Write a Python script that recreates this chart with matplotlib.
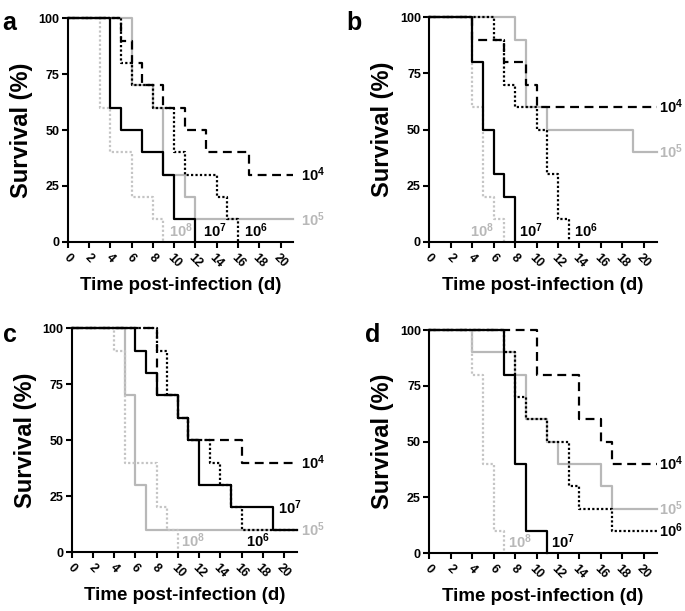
import matplotlib
matplotlib.use("Agg")
import matplotlib.pyplot as plt

plt.rcParams['font.family'] = ['Liberation Sans', 'DejaVu Sans']
plt.rcParams['font.weight'] = 'bold'
plt.rcParams['mathtext.fontset'] = 'custom'
plt.rcParams['mathtext.rm'] = 'Liberation Sans:bold'
plt.rcParams['mathtext.bf'] = 'Liberation Sans:bold'

# Kaplan-Meier steps: day of each drop and survival (%) after it
# panel a
a_t4 = [0, 5, 6, 7, 9, 11, 13, 17]
a_s4 = [100, 90, 80, 70, 60, 50, 40, 30]
a_t5 = [0, 6, 8, 9, 11, 12]
a_s5 = [100, 70, 60, 30, 20, 10]
a_t6 = [0, 5, 6, 8, 10, 11, 14, 15, 16]
a_s6 = [100, 80, 70, 60, 40, 30, 20, 10, 0]
a_t7 = [0, 4, 5, 7, 9, 10, 12]
a_s7 = [100, 60, 50, 40, 30, 10, 0]
a_t8 = [0, 3, 4, 6, 8, 9]
a_s8 = [100, 60, 40, 20, 10, 0]

# panel b
b_t4 = [0, 4, 7, 9, 10]
b_s4 = [100, 90, 80, 70, 60]
b_t5 = [0, 8, 9, 11, 19]
b_s5 = [100, 90, 60, 50, 40]
b_t6 = [0, 6, 7, 8, 10, 11, 12, 13]
b_s6 = [100, 90, 70, 60, 50, 30, 10, 0]
b_t7 = [0, 4, 5, 6, 7, 8]
b_s7 = [100, 80, 50, 30, 20, 0]
b_t8 = [0, 4, 5, 6, 7]
b_s8 = [100, 60, 20, 10, 0]

# panel c
c_t4 = [0, 8, 10, 11, 16]
c_s4 = [100, 70, 60, 50, 40]
c_t5 = [0, 5, 6, 7]
c_s5 = [100, 70, 30, 10]
c_t6 = [0, 8, 9, 10, 11, 13, 14, 15, 16]
c_s6 = [100, 90, 70, 60, 50, 40, 30, 20, 10]
c_t7 = [0, 6, 7, 8, 10, 11, 12, 15, 19]
c_s7 = [100, 90, 80, 70, 60, 50, 30, 20, 10]
c_t8 = [0, 4, 5, 8, 9, 10]
c_s8 = [100, 90, 40, 20, 10, 0]

# panel d
d_t4 = [0, 10, 14, 16, 17]
d_s4 = [100, 80, 60, 50, 40]
d_t5 = [0, 4, 8, 9, 11, 12, 16, 17]
d_s5 = [100, 90, 80, 60, 50, 40, 30, 20]
d_t6 = [0, 7, 8, 9, 11, 13, 14, 17]
d_s6 = [100, 90, 70, 60, 50, 30, 20, 10]
d_t7 = [0, 7, 8, 9, 11]
d_s7 = [100, 80, 40, 10, 0]
d_t8 = [0, 4, 5, 6, 7]
d_s8 = [100, 80, 40, 10, 0]

doses = ['4', '5', '6', '7', '8']

# label positions (day, %) for each dose, per panel
a_lab = [(21.9, 30), (21.9, 10), (16.6, 5), (12.7, 5), (9.5, 5)]
b_lab = [(21.4, 60), (21.4, 40), (13.5, 5), (8.4, 5), (3.8, 5)]
c_lab = [(21.6, 40), (21.6, 10), (16.4, 5), (19.4, 20), (10.3, 5)]
d_lab = [(21.4, 40), (21.4, 20), (21.4, 10), (11.3, 5), (7.3, 5)]

END = 21.2
GRAY = '#b8b8b8'
GRAY_DOT = '#c4c4c4'

styles = {
    '4': dict(color='black', dashes=(4, 2.5)),
    '5': dict(color=GRAY, linestyle='-'),
    '6': dict(color='black', dashes=(1, 1)),
    '7': dict(color='black', linestyle='-'),
    '8': dict(color=GRAY_DOT, dashes=(1, 1)),
}
lab_colors = {'4': 'black', '5': GRAY, '6': 'black', '7': 'black', '8': GRAY}


def extend(t, s):
    # carry the last value to the end of follow-up unless it reached 0
    if s[-1] > 0:
        return t + [END], s + [s[-1]]
    return t, s


fig = plt.figure(figsize=(6.85, 6.11), dpi=100)

boxes = [
    (0.0988, 0.6044, 0.3295, 0.3656),
    (0.6267, 0.6044, 0.3320, 0.3673),
    (0.1047, 0.0961, 0.3285, 0.3666),
    (0.6267, 0.0944, 0.3320, 0.3655),
]
letters = ['a', 'b', 'c', 'd']
letter_pos = [(0.004, 0.962), (0.505, 0.962), (0.004, 0.452), (0.533, 0.452)]

panels = [
    ([a_t4, a_t5, a_t6, a_t7, a_t8], [a_s4, a_s5, a_s6, a_s7, a_s8], a_lab),
    ([b_t4, b_t5, b_t6, b_t7, b_t8], [b_s4, b_s5, b_s6, b_s7, b_s8], b_lab),
    ([c_t4, c_t5, c_t6, c_t7, c_t8], [c_s4, c_s5, c_s6, c_s7, c_s8], c_lab),
    ([d_t4, d_t5, d_t6, d_t7, d_t8], [d_s4, d_s5, d_s6, d_s7, d_s8], d_lab),
]

# draw order: grey first, black on top
order = [1, 4, 3, 0, 2]

for k, (times, survs, labs) in enumerate(panels):
    ax = fig.add_axes(boxes[k])
    for i in order:
        t, s = extend(times[i], survs[i])
        ax.step(t, s, where='post', lw=1.6, clip_on=False, **styles[doses[i]])
    for i, (x, y) in enumerate(labs):
        ax.text(x, y, r'$\mathbf{10^{%s}}$' % doses[i], color=lab_colors[doses[i]],
                fontsize=10.5, ha='left', va='center', clip_on=False)

    ax.set_xlim(0, END)
    ax.set_ylim(0, 100)
    ax.set_xticks(range(0, 21, 2))
    ax.set_yticks([0, 25, 50, 75, 100])
    ax.set_xticklabels([str(v) for v in range(0, 21, 2)], rotation=-45,
                       ha='center', fontsize=9, fontweight='bold')
    ax.set_yticklabels(['0', '25', '50', '75', '100'], fontsize=9, fontweight='bold')
    ax.tick_params(direction='out', length=4, width=1.5, pad=2)
    ax.tick_params(axis='x', pad=3)
    for side in ['top', 'right']:
        ax.spines[side].set_visible(False)
    for side in ['left', 'bottom']:
        ax.spines[side].set_linewidth(1.5)
    ax.set_xlabel('Time post-infection (d)', fontsize=13.5, fontweight='bold', labelpad=5)
    ax.set_ylabel('Survival (%)', fontsize=17, fontweight='bold', labelpad=4)

    fig.text(letter_pos[k][0], letter_pos[k][1], letters[k], fontsize=18,
             fontweight='bold', va='center')

fig.savefig('out.png', dpi=100)
